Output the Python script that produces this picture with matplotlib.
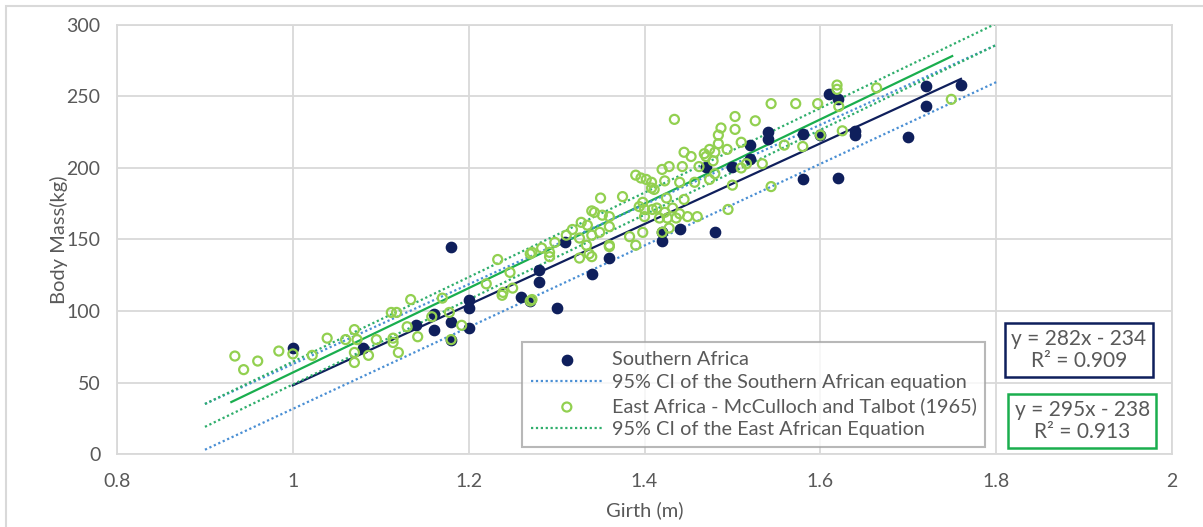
import numpy as np
import matplotlib.pyplot as plt
from matplotlib.patches import Rectangle

# Southern Africa measurements (girth m, body mass kg)
south_girth = [1.00, 1.08, 1.14, 1.16, 1.16, 1.18, 1.18, 1.18, 1.20, 1.20, 1.20,
               1.26, 1.27, 1.28, 1.28, 1.30, 1.31, 1.34, 1.36, 1.42, 1.42, 1.44,
               1.47, 1.48, 1.50, 1.52, 1.52, 1.54, 1.54, 1.58, 1.58, 1.60, 1.61,
               1.62, 1.62, 1.64, 1.64, 1.70, 1.72, 1.72, 1.76]
south_mass = [74, 74, 90, 98, 87, 92, 80, 145, 108, 102, 88,
              110, 107, 129, 120, 102, 148, 126, 137, 155, 149, 157,
              201, 155, 201, 216, 206, 225, 220, 224, 192, 223, 252,
              248, 193, 226, 223, 222, 257, 243, 258]

# East Africa - McCulloch and Talbot (1965)
east_girth = [0.934, 0.944, 0.960, 0.984, 1.000, 1.022, 1.039, 1.060, 1.070, 1.073,
              1.070, 1.070, 1.086, 1.095, 1.114, 1.120, 1.112, 1.118, 1.134, 1.130,
              1.142, 1.158, 1.170, 1.192, 1.180, 1.114, 1.178, 1.233, 1.220, 1.239,
              1.250, 1.270, 1.292, 1.272, 1.238, 1.247, 1.270, 1.283, 1.272, 1.292,
              1.298, 1.311, 1.318, 1.328, 1.335, 1.340, 1.349, 1.343, 1.352, 1.360,
              1.350, 1.375, 1.390, 1.334, 1.340, 1.360, 1.383, 1.390, 1.326, 1.337,
              1.326, 1.360, 1.340, 1.360, 1.434, 1.503, 1.526, 1.544, 1.572, 1.487,
              1.484, 1.503, 1.484, 1.510, 1.494, 1.474, 1.470, 1.478, 1.468, 1.480,
              1.445, 1.453, 1.443, 1.428, 1.420, 1.396, 1.402, 1.408, 1.408, 1.411,
              1.423, 1.440, 1.457, 1.474, 1.480, 1.462, 1.510, 1.516, 1.534, 1.559,
              1.398, 1.425, 1.445, 1.495, 1.544, 1.500, 1.440, 1.423, 1.449, 1.460,
              1.417, 1.426, 1.420, 1.398, 1.409, 1.394, 1.428, 1.436, 1.400, 1.400,
              1.414, 1.432, 1.619, 1.619, 1.664, 1.597, 1.621, 1.625, 1.600, 1.580,
              1.749]
east_mass = [68.5, 59, 65, 72, 70, 69, 81, 80, 87, 80,
             71, 64, 69, 80, 78, 71, 99, 99, 108, 89,
             82, 96, 109, 90, 80, 81, 99, 136, 119, 113,
             116, 140, 138, 108, 111, 127, 107, 144, 141, 141,
             148, 153, 157, 162, 160, 153, 155, 169, 167, 166,
             179, 180, 195, 146, 138, 146, 152, 146, 151, 140,
             137, 145, 170, 159, 234, 236, 233, 245, 245, 228,
             223, 227, 217, 218, 213, 213, 208, 205, 210, 211,
             211, 208, 201, 201, 199, 193, 192, 190, 186, 185,
             191, 190, 190, 192, 196, 201, 200, 203, 203, 216,
             176, 179, 178, 171, 187, 188, 168, 169, 166, 166,
             165, 165, 155, 155, 171, 173, 158, 165, 166, 171,
             172, 172, 258, 255, 256, 245, 243, 226, 223, 215,
             248]

# regression fits
south_fit_x = [1.00, 1.76]
east_fit_x = [0.93, 1.75]
south_slope, south_icpt = 282, -234
east_slope, east_icpt = 295, -238

# 95% CI lines (values at girth 0.9 and 1.8)
ci_x = [0.9, 1.8]
south_ci_lo = [3, 260]
south_ci_hi = [35, 286]
east_ci_lo = [19, 286]
east_ci_hi = [35, 301]

navy = '#0f1f5c'
lightgreen = '#92d050'
green = '#1aae4e'
ci_blue = '#4a8fd4'
ci_green = '#2fae6c'
gray = '#595959'

plt.rcParams['font.family'] = ['Lato', 'DejaVu Sans']

fig = plt.figure(figsize=(12.03, 5.27), dpi=100)
ax = fig.add_axes([0.0973, 0.1385, 0.8769, 0.8141])

fig.patches.append(Rectangle((0.005, -0.1), 1.2, 1.0886, transform=fig.transFigure,
                             fill=False, edgecolor='#d9d9d9', linewidth=1.5))

sx = np.array(south_fit_x)
ex = np.array(east_fit_x)
ax.plot(sx, south_slope * sx + south_icpt, color=navy, lw=1.6, zorder=3)
ax.plot(ex, east_slope * ex + east_icpt, color=green, lw=1.6, zorder=3)

ax.plot(ci_x, south_ci_lo, color=ci_blue, lw=1.6, ls=(0, (1, 1.2)), zorder=3)
ax.plot(ci_x, south_ci_hi, color=ci_blue, lw=1.6, ls=(0, (1, 1.2)), zorder=3,
        label='95% CI of the Southern African equation')
ax.plot(ci_x, east_ci_lo, color=ci_green, lw=1.6, ls=(0, (1, 1.2)), zorder=3)
ax.plot(ci_x, east_ci_hi, color=ci_green, lw=1.6, ls=(0, (1, 1.2)), zorder=3,
        label='95% CI of the East African Equation')

ax.scatter(south_girth, south_mass, s=55, color=navy, zorder=4, label='Southern Africa')
ax.scatter(east_girth, east_mass, s=42, facecolors='none', edgecolors=lightgreen,
           linewidths=1.6, zorder=5, label='East Africa - McCulloch and Talbot (1965)')

ax.set_xlim(0.8, 2)
ax.set_ylim(0, 300)
ax.set_xticks([0.8, 1, 1.2, 1.4, 1.6, 1.8, 2])
ax.set_xticklabels(['0.8', '1', '1.2', '1.4', '1.6', '1.8', '2'])
ax.set_yticks(range(0, 301, 50))
ax.grid(True, color='#d9d9d9', lw=1.3)
ax.set_axisbelow(True)
for s in ax.spines.values():
    s.set_color('#d9d9d9')
    s.set_linewidth(1.3)
ax.tick_params(length=0, labelsize=14, labelcolor=gray)
ax.tick_params(axis='x', pad=14)
ax.tick_params(axis='y', pad=12)
ax.set_xlabel('Girth (m)', fontsize=14.5, color=gray, labelpad=8)
ax.set_ylabel('Body Mass(kg)', fontsize=14.5, color=gray, labelpad=-1)

h, l = ax.get_legend_handles_labels()
order = [2, 0, 3, 1]
leg = ax.legend([h[i] for i in order], [l[i] for i in order], loc='lower left',
                bbox_to_anchor=(0.384, 0.016), fontsize=14.3, frameon=True,
                fancybox=False, edgecolor='#a6a6a6', labelcolor=gray,
                handlelength=3.6, handletextpad=0.45, borderpad=0.45,
                labelspacing=0.3, borderaxespad=0)
leg.get_frame().set_linewidth(1.5)

ax.text(1.894, 72.7, 'y = 282x - 234\nR² = 0.909', ha='center', va='center',
        fontsize=15, color=gray, linespacing=1.1,
        bbox=dict(boxstyle='square,pad=0.3', fc='white', ec=navy, lw=1.8))
ax.text(1.898, 23, 'y = 295x - 238\nR² = 0.913', ha='center', va='center',
        fontsize=15, color=gray, linespacing=1.1,
        bbox=dict(boxstyle='square,pad=0.3', fc='white', ec=green, lw=1.8))

plt.savefig('out.png', dpi=100)
